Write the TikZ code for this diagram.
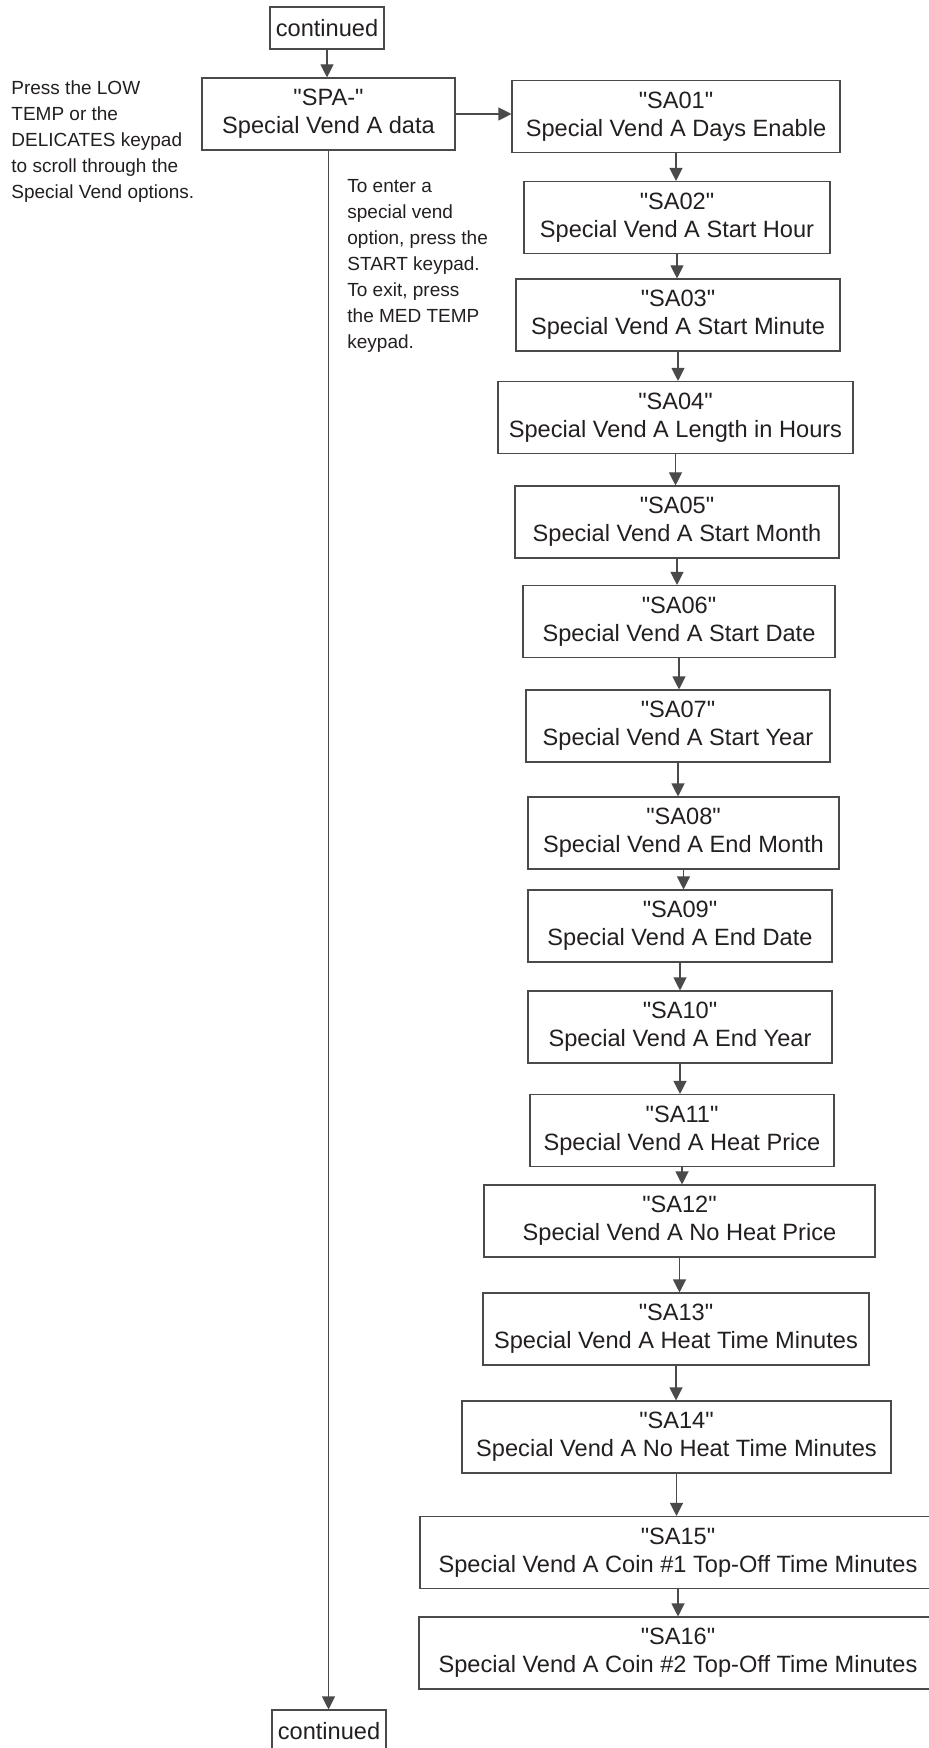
\documentclass[tikz,border=0pt]{standalone}
\usepackage{fontspec}
\setmainfont{Liberation Sans}[Ligatures=TeXOff]
\usepackage{tikz}
\usetikzlibrary{arrows.meta}
\definecolor{ink}{HTML}{231F20}
\definecolor{rule}{HTML}{4A4A4A}
\newcommand{\boxfont}{\fontsize{11.8}{14}\selectfont}
\newcommand{\notefont}{\fontsize{9.5}{13}\selectfont}

\begin{document}
\begin{tikzpicture}[x=0.5pt, y=-0.5pt, >={Triangle[length=6.5pt, width=6.5pt]},
    stepbox/.style={draw=rule, line width=0.55pt, text=ink, align=center,
        font=\boxfont, inner sep=0pt, minimum height=36pt},
    note/.style={text=ink, align=left, font=\notefont, inner sep=0pt, anchor=north west},
    link/.style={draw=rule, line width=0.55pt, ->}]
    \useasboundingbox (0,0) rectangle (929,1748);

    % Entry and exit
    \node[stepbox, minimum width=57pt, minimum height=21pt] (top) at (327,28) {continued};
    \node[stepbox, minimum width=57pt, minimum height=21pt] (bottom) at (329,1731) {continued};

    % Special Vend A data
    \node[stepbox, minimum width=126.5pt] (spa) at (328.5,114) {"SPA-"\\Special Vend A data};

    % Notes
    \node[note] (scroll) at (11,80) {Press the LOW\\TEMP or the\\DELICATES keypad\\to scroll through the\\Special Vend options.};
    \node[note] (enter) at (347,179) {To enter a\\special vend\\option, press the\\START keypad.\\To exit, press\\the MED TEMP\\keypad.};

    % Options SA01 ... SA16
    \foreach \n/\cx/\cy/\w/\txt in {
        sa01/676/116.5/164/Days Enable,
        sa02/677/217.5/153/Start Hour,
        sa03/678/315/162/Start Minute,
        sa04/675.5/417.5/177.5/Length in Hours,
        sa05/677/522/162/Start Month,
        sa06/679/621.5/156/Start Date,
        sa07/678/726/152/Start Year,
        sa08/683.5/833/155.5/End Month,
        sa09/680/926/152/End Date,
        sa10/680/1027/152/End Year,
        sa11/682/1130.5/152/Heat Price,
        sa12/679.5/1221/195.5/No Heat Price,
        sa13/676/1329/193/Heat Time Minutes,
        sa14/676.5/1437/214.5/No Heat Time Minutes,
        sa15/678/1552.5/258/Coin \#1 Top-Off Time Minutes,
        sa16/678/1653/259/Coin \#2 Top-Off Time Minutes} {
        \node[stepbox, minimum width=\w pt] (\n) at (\cx,\cy) {"\MakeUppercase{\n}"\\Special Vend A \txt};
    }

    % Arrows
    \draw[link] (top.south) -- (top.south |- spa.north);
    \draw[link] (spa.south) -- (spa.south |- bottom.north);
    \draw[link] (spa.east) -- (spa.east -| sa01.west);
    \foreach \a/\b in {sa01/sa02, sa02/sa03, sa03/sa04, sa04/sa05, sa05/sa06,
        sa06/sa07, sa07/sa08, sa08/sa09, sa09/sa10, sa10/sa11, sa11/sa12,
        sa12/sa13, sa13/sa14, sa14/sa15, sa15/sa16} {
        \draw[link] (\a.south) -- (\a.south |- \b.north);
    }
\end{tikzpicture}
\end{document}
